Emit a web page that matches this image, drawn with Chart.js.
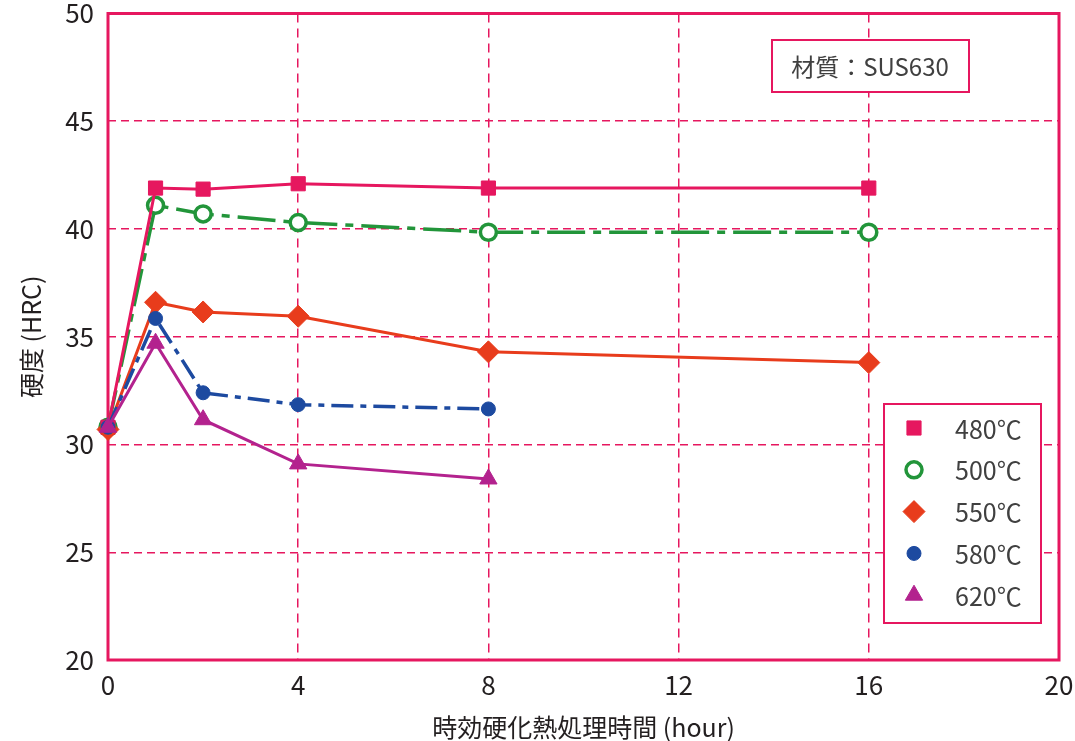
<!DOCTYPE html>
<html lang="ja">
<head>
<meta charset="utf-8">
<title>時効硬化熱処理時間と硬度</title>
<script src="https://cdn.jsdelivr.net/npm/chart.js@4/dist/chart.umd.min.js"></script>
<style>
    html, body {
        margin: 0;
        padding: 0;
        background: #ffffff;
    }

    #wrap {
        position: relative;
        width: 1075px;
        height: 741px;
    }
</style>
</head>
<body>
<div id="wrap">
    <canvas id="hardnessChart"></canvas>
</div>
<script>
const FONT_FAMILY = "'Noto Sans CJK JP', 'Noto Sans', sans-serif";
const FRAME_COLOR = '#e6175f';

// aging time (hour)
const hours = [0, 1, 2, 4, 8, 16];
const hoursShort = [0, 1, 2, 4, 8];

// hardness (HRC) per aging temperature
const hrc480 = [30.8, 41.9, 41.85, 42.1, 41.9, 41.9];
const hrc500 = [30.8, 41.1, 40.7, 40.3, 39.85, 39.85];
const hrc550 = [30.7, 36.6, 36.15, 35.95, 34.3, 33.8];
const hrc580 = [30.8, 35.85, 32.4, 31.85, 31.65];
const hrc620 = [30.8, 34.7, 31.15, 29.1, 28.4];

const seriesLabels = ['480℃', '500℃', '550℃', '580℃', '620℃'];

const yTicks = [20, 25, 30, 35, 40, 45, 50];
const xTicks = [0, 4, 8, 12, 16, 20];

const materialNote = '材質：SUS630';
const xTitle = '時効硬化熱処理時間 (hour)';
const yTitle = '硬度 (HRC)';

function toPoints(xs, ys) {
    return ys.map((y, i) => ({ x: xs[i], y: y }));
}

function makeSeries(label, xs, ys, style) {
    return Object.assign({
        label: label,
        data: toPoints(xs, ys),
        showLine: true,
        fill: false,
        tension: 0,
        clip: false,
        borderWidth: 3,
        pointBorderWidth: 1,
        pointHoverRadius: 10,
    }, style);
}

const datasets = [
    makeSeries(seriesLabels[0], hours, hrc480, {
        borderColor: '#e6175f',
        backgroundColor: '#e6175f',
        pointBackgroundColor: '#e6175f',
        pointBorderColor: '#e6175f',
        pointStyle: 'rect',
        pointRadius: 10,
        order: 3,
    }),
    makeSeries(seriesLabels[1], hours, hrc500, {
        borderColor: '#22953a',
        backgroundColor: '#ffffff',
        pointBackgroundColor: '#ffffff',
        pointBorderColor: '#22953a',
        pointBorderWidth: 3.5,
        borderWidth: 3.5,
        borderDash: [38, 8, 8, 8],
        pointStyle: 'circle',
        pointRadius: 8,
        order: 4,
    }),
    makeSeries(seriesLabels[2], hours, hrc550, {
        borderColor: '#e83c1c',
        backgroundColor: '#e83c1c',
        pointBackgroundColor: '#e83c1c',
        pointBorderColor: '#e83c1c',
        pointStyle: 'rectRot',
        pointRadius: 11,
        order: 2,
    }),
    makeSeries(seriesLabels[3], hoursShort, hrc580, {
        borderColor: '#1d4aa0',
        backgroundColor: '#1d4aa0',
        pointBackgroundColor: '#1d4aa0',
        pointBorderColor: '#1d4aa0',
        borderWidth: 3.5,
        borderDash: [22, 7, 6, 7],
        pointStyle: 'circle',
        pointRadius: 7,
        order: 1,
    }),
    makeSeries(seriesLabels[4], hoursShort, hrc620, {
        borderColor: '#b3228e',
        backgroundColor: '#b3228e',
        pointBackgroundColor: '#b3228e',
        pointBorderColor: '#b3228e',
        pointStyle: 'triangle',
        pointRadius: 10,
        order: 0,
    }),
];

// solid frame round the plot area, under the lines
const plotFrame = {
    id: 'plotFrame',
    beforeDatasetsDraw(chart) {
        const { ctx, chartArea } = chart;
        ctx.save();
        ctx.strokeStyle = FRAME_COLOR;
        ctx.lineWidth = 3;
        ctx.setLineDash([]);
        ctx.strokeRect(chartArea.left, chartArea.top,
            chartArea.right - chartArea.left, chartArea.bottom - chartArea.top);
        ctx.restore();
    },
};

function drawBox(ctx, x, y, w, h) {
    ctx.fillStyle = '#ffffff';
    ctx.fillRect(x, y, w, h);
    ctx.strokeStyle = FRAME_COLOR;
    ctx.lineWidth = 2;
    ctx.setLineDash([]);
    ctx.strokeRect(x, y, w, h);
}

// material note and legend, both boxed inside the plot
const boxes = {
    id: 'boxes',
    afterDatasetsDraw(chart) {
        const ctx = chart.ctx;
        ctx.save();

        drawBox(ctx, 772, 40, 197, 52);
        ctx.fillStyle = '#404040';
        ctx.font = `24px ${FONT_FAMILY}`;
        ctx.textAlign = 'center';
        ctx.textBaseline = 'middle';
        ctx.fillText(materialNote, 870, 67);

        drawBox(ctx, 884, 404, 157, 219);
        const rowTop = 428;
        const rowGap = 41.8;

        chart.data.datasets.forEach((ds, i) => {
            const cy = rowTop + i * rowGap;
            ctx.fillStyle = ds.pointBackgroundColor;
            ctx.strokeStyle = ds.pointBorderColor;
            ctx.lineWidth = ds.pointBorderWidth;
            Chart.helpers.drawPoint(ctx, {
                pointStyle: ds.pointStyle,
                radius: ds.pointRadius,
                rotation: 0,
                borderWidth: ds.pointBorderWidth,
            }, 914, cy);

            ctx.fillStyle = '#404040';
            ctx.font = `25px ${FONT_FAMILY}`;
            ctx.textAlign = 'left';
            ctx.textBaseline = 'middle';
            ctx.fillText(ds.label, 955, cy + 1);
        });

        ctx.restore();
    },
};

function initChart() {
    const canvas = document.getElementById('hardnessChart');
    if (!canvas || typeof Chart === 'undefined') {
        return;
    }

    new Chart(canvas.getContext('2d'), {
        type: 'scatter',
        data: { datasets: datasets },
        options: {
            responsive: true,
            maintainAspectRatio: false,
            animation: false,
            layout: {
                padding: { left: 0, right: 16, top: 10, bottom: 0 },
            },
            plugins: {
                legend: { display: false },
                tooltip: { enabled: true },
            },
            scales: {
                x: {
                    type: 'linear',
                    min: xTicks[0],
                    max: xTicks[xTicks.length - 1],
                    afterBuildTicks(scale) {
                        scale.ticks = xTicks.map((v) => ({ value: v }));
                    },
                    afterFit(scale) {
                        scale.height = 81;
                        scale.paddingLeft = 0;
                        scale.paddingRight = 0;
                    },
                    ticks: {
                        color: '#231f20',
                        padding: 10,
                        font: { family: FONT_FAMILY, size: 26 },
                    },
                    grid: {
                        color: FRAME_COLOR,
                        lineWidth: 1.5,
                        drawTicks: false,
                    },
                    border: { display: false, dash: [9, 6] },
                    title: {
                        display: true,
                        text: xTitle,
                        color: '#231f20',
                        padding: { top: 0, bottom: 1 },
                        font: { family: FONT_FAMILY, size: 25, lineHeight: 1 },
                    },
                },
                y: {
                    type: 'linear',
                    min: yTicks[0],
                    max: yTicks[yTicks.length - 1],
                    afterBuildTicks(scale) {
                        scale.ticks = yTicks.map((v) => ({ value: v }));
                    },
                    afterFit(scale) {
                        scale.width = 108;
                        scale.paddingTop = 0;
                        scale.paddingBottom = 0;
                    },
                    ticks: {
                        color: '#231f20',
                        padding: 14,
                        font: { family: FONT_FAMILY, size: 26 },
                    },
                    grid: {
                        color: FRAME_COLOR,
                        lineWidth: 1.5,
                        drawTicks: false,
                    },
                    border: { display: false, dash: [8, 5] },
                    title: {
                        display: true,
                        text: yTitle,
                        color: '#231f20',
                        padding: { top: 19, bottom: 0 },
                        font: { family: FONT_FAMILY, size: 25, lineHeight: 1 },
                    },
                },
            },
        },
        plugins: [plotFrame, boxes],
    });
}

document.addEventListener('DOMContentLoaded', initChart);
</script>
</body>
</html>
